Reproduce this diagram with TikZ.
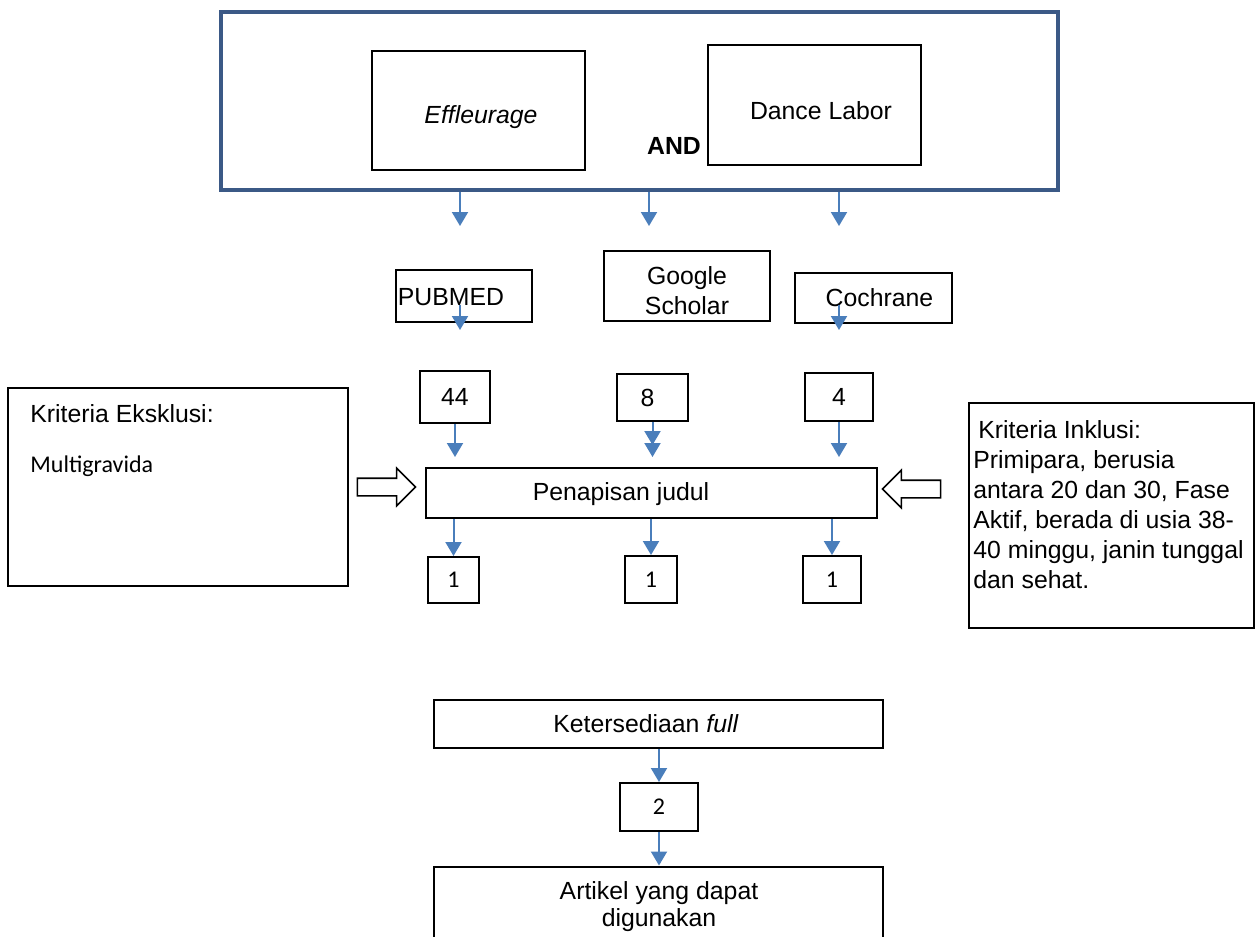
\documentclass[tikz,border=0pt]{standalone}
\usepackage{fontspec}
\setmainfont{Liberation Sans}
\newfontfamily\calibri{Carlito}
\usetikzlibrary{arrows.meta,shapes.arrows}
\definecolor{flowblue}{RGB}{74,126,187}
\definecolor{frameblue}{RGB}{59,89,134}

\begin{document}
\begin{tikzpicture}
      [x=0.5pt, y=-0.5pt,
       box/.style={draw, line width=1pt, inner sep=2pt, font=\fontsize{12.4}{15}\selectfont},
       txt/.style={inner sep=0pt, font=\fontsize{12.4}{15}\selectfont},
       flow/.style={draw=flowblue, line width=1pt, -{Triangle[width=8pt,length=7pt]}, flowblue},
       hollow/.style={single arrow, draw, line width=0.8pt, inner sep=4pt,
         minimum height=29pt, single arrow head extend=5pt}]
      \clip (0,0) rectangle (1255,937);
      \fill[white] (0,0) rectangle (1255,937);

      % search terms
      \node[draw=frameblue, line width=2pt, minimum width=418.5pt, minimum height=89pt] (search) at (639.5,101) {};
      \node[box, minimum width=106.5pt, minimum height=59.5pt] (eff) at (478.5,110.5) {};
      \node[txt, font=\fontsize{12.4}{15}\selectfont\itshape] (efftxt) at (481,117) {Effleurage};
      \node[box, minimum width=106.5pt, minimum height=60pt] (dance) at (814.5,105) {};
      \node[txt] (dancetxt) at (821,111) {Dance Labor};
      \node[txt, font=\fontsize{12.4}{15}\selectfont\bfseries] (and) at (674,146) {AND};

      % databases
      \node[box, minimum width=68pt, minimum height=26pt] (pubmed) at (464,296) {};
      \node[txt] (pubmedtxt) at (451,297) {PUBMED};
      \node[box, minimum width=83pt, minimum height=35pt] (scholar) at (687,286) {};
      \node[txt, align=center] (scholartxt) at (687,291) {Google\\Scholar};
      \node[box, minimum width=78.5pt, minimum height=25pt] (cochrane) at (873.5,298) {\hspace{6pt}Cochrane};

      \coordinate (d1) at (460,226);
      \coordinate (d2) at (649,226);
      \coordinate (d3) at (839,226);
      \draw[flow] (search.south -| d1) -- (d1);
      \draw[flow] (search.south -| d2) -- (d2);
      \draw[flow] (search.south -| d3) -- (d3);

      \coordinate (p0) at (460,305);
      \coordinate (p1) at (460,330);
      \coordinate (c0) at (839,305);
      \coordinate (c1) at (839,330);
      \draw[flow] (p0) -- (p1);
      \draw[flow] (c0) -- (c1);

      % hits
      \node[box, minimum width=35pt, minimum height=26pt] (n44) at (455,397) {44};
      \node[box, minimum width=35.5pt, minimum height=23.5pt] (n8) at (652.5,397.5) {\hspace{-5pt}8};
      \node[box, minimum width=34pt, minimum height=24pt] (n4) at (839,397) {4};

      % screening
      \node[box, minimum width=225.5pt, minimum height=25pt] (pen) at (651.5,493) {};
      \node[txt] (pentxt) at (621,494) {Penapisan judul};

      \draw[flow, shorten >=5pt] (n44) -- (n44 |- pen.north);
      \draw[flow, shorten >=11pt] (n8) -- (n8 |- pen.north);
      \draw[flow, shorten >=5pt] (n8) -- (n8 |- pen.north);
      \draw[flow, shorten >=5pt] (n4) -- (n4 |- pen.north);

      \node[box, font=\fontsize{12}{14}\calibri, minimum width=25.5pt, minimum height=23pt] (one1) at (453.5,580) {1};
      \node[box, font=\fontsize{12}{14}\calibri, minimum width=26pt, minimum height=23.5pt] (one2) at (651,579.5) {1};
      \node[box, font=\fontsize{12}{14}\calibri, minimum width=29pt, minimum height=23.5pt] (one3) at (832,579.5) {1};
      \draw[flow] (pen.south -| one1) -- (one1);
      \draw[flow] (pen.south -| one2) -- (one2);
      \draw[flow] (pen.south -| one3) -- (one3);

      % criteria
      \node[box, minimum width=170pt, minimum height=99pt] (exkl) at (178,487) {};
      \node[txt, anchor=west] (exkltitle) at (30,414) {Kriteria Eksklusi:};
      \node[txt, anchor=west, font=\fontsize{12}{14}\calibri] (exkltxt) at (30,466) {Multigravida};
      \node[box, minimum width=142.5pt, minimum height=112.5pt] (inkl) at (1111.5,515.5) {};
      \node[txt, anchor=north west, align=left] (inkltxt) at (973,420)
        {\hspace{2.5pt}Kriteria Inklusi:\\ Primipara, berusia\\ antara 20 dan 30, Fase\\
         Aktif, berada di usia 38-\\ 40 minggu, janin tunggal\\ dan sehat.};

      \node[hollow] (exarrow) at (382,487) {};
      \node[hollow, shape border rotate=180] (inarrow) at (916,489) {};

      % full text
      \node[box, minimum width=224.5pt, minimum height=24pt] (ket) at (658.5,724) {};
      \node[txt] (kettxt) at (646,724) {Ketersediaan \textit{full}};
      \node[box, font=\fontsize{12}{14}\calibri, minimum width=39pt, minimum height=24pt] (two) at (659,807) {2};
      \node[box, minimum width=224.5pt, minimum height=47pt] (art) at (658.5,913.5) {};
      \node[txt, align=center, font=\fontsize{12.4}{13.5}\selectfont] (arttxt) at (659,907) {Artikel yang dapat\\digunakan};
      \draw[flow] (ket.south -| two) -- (two);
      \draw[flow] (two) -- (two |- art.north);
    \end{tikzpicture}
\end{document}
